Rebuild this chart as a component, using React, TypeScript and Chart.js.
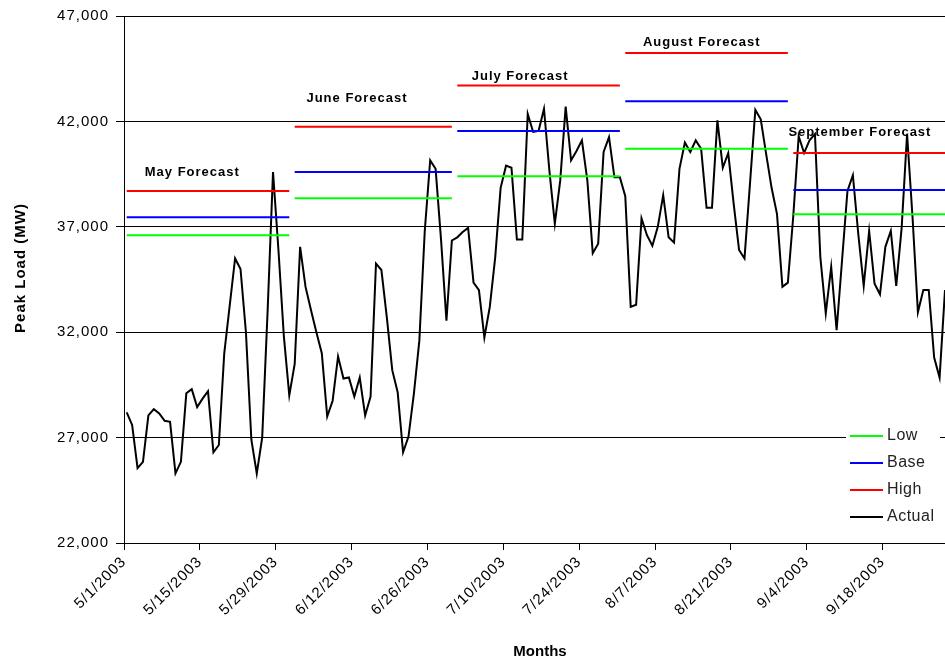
import React, { useEffect, useRef } from "react";
import { Chart, registerables } from "chart.js";

Chart.register(...registerables);

// ---- data ----
const tickLabels = [
  "5/1/2003", "5/15/2003", "5/29/2003", "6/12/2003", "6/26/2003", "7/10/2003",
  "7/24/2003", "8/7/2003", "8/21/2003", "9/4/2003", "9/18/2003",
];
const tickStepDays = 14;

// daily peak load, starting 5/1/2003 (day 0)
const actualLoad = [
  28200, 27600, 25550, 25850, 28050, 28350, 28150, 27800, 27750, 25300,
  25850, 29100, 29300, 28450, 28850, 29200, 26300, 26650, 31000, 33250,
  35500, 35000, 32000, 26900, 25300, 27000, 33000, 39600, 35900, 31800,
  29000, 30500, 36050, 34150, 33050, 32000, 31000, 28000, 28750, 30850,
  29800, 29850, 28950, 29850, 28050, 28950, 35250, 34950, 32700, 30200,
  29150, 26300, 27050, 29100, 31600, 36800, 40150, 39750, 36400, 32550,
  36350, 36500, 36750, 36950, 34350, 34000, 31750, 33200, 35550, 38850,
  39900, 39800, 36400, 36400, 42350, 41500, 41550, 42600, 39650, 37150,
  39200, 42700, 40150, 40600, 41100, 39200, 35750, 36200, 40550, 41250,
  39350, 39350, 38450, 33200, 33300, 37400, 36600, 36100, 37000, 38500,
  36500, 36250, 39750, 41000, 40550, 41100, 40700, 37900, 37900, 42050,
  39800, 40500, 38100, 35900, 35500, 39000, 42550, 42100, 40450, 38850,
  37600, 34150, 34350, 37500, 41300, 40500, 41100, 41400, 35550, 32900,
  35100, 32100, 35400, 38700, 39450, 36650, 34200, 36800, 34300, 33800,
  36050, 36800, 34200, 36950, 41400, 37500, 32950, 34000, 34000, 30800,
  29850, 34000,
];

const monthNames = ["May", "June", "July", "August", "September"];
const monthStartDay = [0, 31, 61, 92, 123];
const monthEndDay = [30, 60, 91, 122, 152];
const lowForecast = [36600, 38350, 39400, 40700, 37600];
const baseForecast = [37450, 39600, 41550, 42950, 38750];
const highForecast = [38700, 41750, 43700, 45250, 40500];

// forecast caption anchors (day, MW)
const captionDay = [12.1, 42.5, 72.6, 106.1, 135.3];
const captionLoad = [39600, 43100, 44150, 45750, 41500];

const legendNames = ["Low", "Base", "High", "Actual"];
const legendColors = ["#00FF00", "#0000FF", "#FF0000", "#000000"];

const FONT = "'Liberation Sans', Arial, sans-serif";

const dayPos = (d: number) => d + 0.5;

function segmentData(values: number[]) {
  const pts: { x: number; y: number | null }[] = [];
  values.forEach((v, i) => {
    pts.push({ x: dayPos(monthStartDay[i]), y: v });
    pts.push({ x: dayPos(monthEndDay[i]), y: v });
    pts.push({ x: dayPos(monthEndDay[i]) + 0.2, y: null });
  });
  return pts;
}

const spacingPlugin = {
  id: "spacing",
  beforeUpdate(chart: any) {
    chart.ctx.letterSpacing = "1px";
  },
  beforeDraw(chart: any) {
    chart.ctx.letterSpacing = "1px";
  },
};

const captionPlugin = {
  id: "captions",
  beforeDatasetsDraw(chart: any) {
    const { ctx, scales } = chart;
    ctx.save();
    ctx.font = `bold 13px ${FONT}`;
    ctx.fillStyle = "#000";
    ctx.textAlign = "center";
    ctx.textBaseline = "middle";
    monthNames.forEach((m, i) => {
      const x = scales.x.getPixelForValue(dayPos(captionDay[i]));
      const y = scales.y.getPixelForValue(captionLoad[i]);
      ctx.fillText(`${m} Forecast`, x, y);
    });
    ctx.restore();
  },
};

const decorPlugin = {
  id: "decor",
  afterDraw(chart: any) {
    const { ctx, chartArea } = chart;
    ctx.save();
    // y-axis title
    ctx.font = `bold 15px ${FONT}`;
    ctx.fillStyle = "#000";
    ctx.textAlign = "center";
    ctx.textBaseline = "middle";
    ctx.translate(21, 268);
    ctx.rotate(-Math.PI / 2);
    ctx.fillText("Peak Load (MW)", 0, 0);
    ctx.restore();

    ctx.save();
    ctx.letterSpacing = "0px";
    ctx.font = `bold 15px 'Liberation Sans Narrow', ${FONT}`;
    ctx.fillStyle = "#000";
    ctx.textAlign = "center";
    ctx.textBaseline = "middle";
    ctx.fillText("Months", 540, 652);
    ctx.restore();

    // legend
    ctx.save();
    const bx = 846;
    const by = 423;
    ctx.fillStyle = "#fff";
    ctx.fillRect(bx, by, chartArea.right - 5 - bx, 108);
    ctx.letterSpacing = "0.5px";
    ctx.font = `16px ${FONT}`;
    ctx.textAlign = "left";
    ctx.textBaseline = "middle";
    legendNames.forEach((name, i) => {
      const y = 436 + i * 27;
      ctx.strokeStyle = legendColors[i];
      ctx.lineWidth = 2;
      ctx.beginPath();
      ctx.moveTo(850, y);
      ctx.lineTo(883, y);
      ctx.stroke();
      ctx.fillStyle = "#222";
      ctx.fillText(name, 887, y);
    });
    ctx.restore();
  },
};

export default function App() {
  const ref = useRef<HTMLCanvasElement>(null);

  useEffect(() => {
    const canvas = ref.current;
    if (!canvas) return;
    const chart = new Chart(canvas, {
      type: "line",
      data: {
        datasets: [
          {
            label: "Low",
            data: segmentData(lowForecast) as any,
            borderColor: "#00FF00",
            borderWidth: 2,
            pointRadius: 0,
            spanGaps: false,
          },
          {
            label: "Base",
            data: segmentData(baseForecast) as any,
            borderColor: "#0000FF",
            borderWidth: 2,
            pointRadius: 0,
            spanGaps: false,
          },
          {
            label: "High",
            data: segmentData(highForecast) as any,
            borderColor: "#FF0000",
            borderWidth: 2,
            pointRadius: 0,
            spanGaps: false,
          },
          {
            label: "Actual",
            data: actualLoad.map((v, d) => ({ x: dayPos(d), y: v })) as any,
            borderColor: "#000000",
            borderWidth: 2,
            pointRadius: 0,
          },
        ],
      },
      options: {
        responsive: false,
        animation: false,
        devicePixelRatio: 1,
        layout: { padding: { top: 15, left: 0, right: 0, bottom: 0 } },
        plugins: {
          legend: { display: false },
          tooltip: { enabled: false },
        },
        elements: { line: { tension: 0 }, point: { radius: 0 } },
        scales: {
          x: {
            type: "linear",
            min: 0,
            max: 151.5,
            afterBuildTicks: (s: any) => {
              s.ticks = tickLabels.map((_, i) => ({ value: i * tickStepDays }));
            },
            afterFit: (s: any) => {
              s.height = 122;
            },
            ticks: {
              autoSkip: false,
              minRotation: 45,
              maxRotation: 45,
              padding: 3,
              color: "#000",
              font: { family: FONT, size: 15 },
              callback: (v: any) => tickLabels[Math.round(Number(v) / tickStepDays)] ?? "",
            },
            grid: { drawOnChartArea: false, drawTicks: true, tickLength: 7, color: "#000" },
            border: { color: "#000", width: 1 },
          },
          y: {
            min: 22000,
            max: 47000,
            afterFit: (s: any) => {
              s.width = 124;
            },
            ticks: {
              stepSize: 5000,
              padding: 7,
              color: "#000",
              font: { family: FONT, size: 15 },
              callback: (v: any) => Number(v).toLocaleString("en-US"),
            },
            grid: { color: "#000", lineWidth: 1, tickLength: 8 },
            border: { color: "#000", width: 1 },
          },
        },
      } as any,
      plugins: [spacingPlugin, captionPlugin, decorPlugin],
    });
    return () => chart.destroy();
  }, []);

  return (
    <div style={{ position: "fixed", left: 0, top: 0, width: 945, height: 665, background: "#fff" }}>
      <canvas ref={ref} width={945} height={665} style={{ display: "block", width: 945, height: 665 }} />
    </div>
  );
}
